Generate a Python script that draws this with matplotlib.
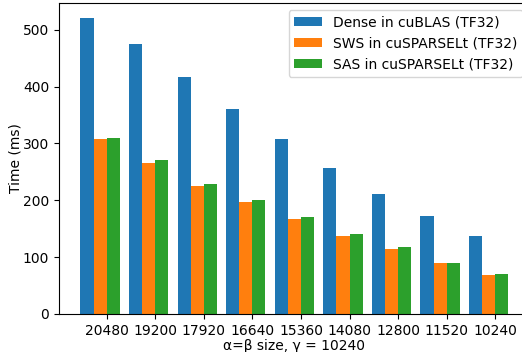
import matplotlib
matplotlib.use("Agg")
import matplotlib.pyplot as plt
import numpy as np

# matrix sizes (alpha = beta), gamma fixed at 10240
sizes = ["20480", "19200", "17920", "16640", "15360", "14080", "12800", "11520", "10240"]
dense_cublas = [521, 475, 417, 360, 307, 257, 211, 172, 137]
sws_cusparselt = [307, 266, 225, 197, 167, 137, 115, 89, 69]
sas_cusparselt = [310, 270, 229, 200, 170, 140, 117, 90, 71]

plt.rcParams["font.size"] = 10

fig = plt.figure(figsize=(5.22, 3.52), dpi=100)
ax = fig.add_axes([0.113, 0.108, 0.902, 0.8835])

x = np.arange(len(sizes))
w = 0.27
ax.bar(x - 2 * w, dense_cublas, w, align="edge", color="C0", label="Dense in cuBLAS (TF32)")
ax.bar(x - w, sws_cusparselt, w, align="edge", color="C1", label="SWS in cuSPARSELt (TF32)")
ax.bar(x, sas_cusparselt, w, align="edge", color="C2", label="SAS in cuSPARSELt (TF32)")

ax.set_xticks(x)
ax.set_xticklabels(sizes)
ax.set_ylabel("Time (ms)", labelpad=0)
ax.set_xlabel("α=β size, γ = 10240", labelpad=1)
ax.legend(loc="upper right")

fig.savefig("out.png", dpi=100)
